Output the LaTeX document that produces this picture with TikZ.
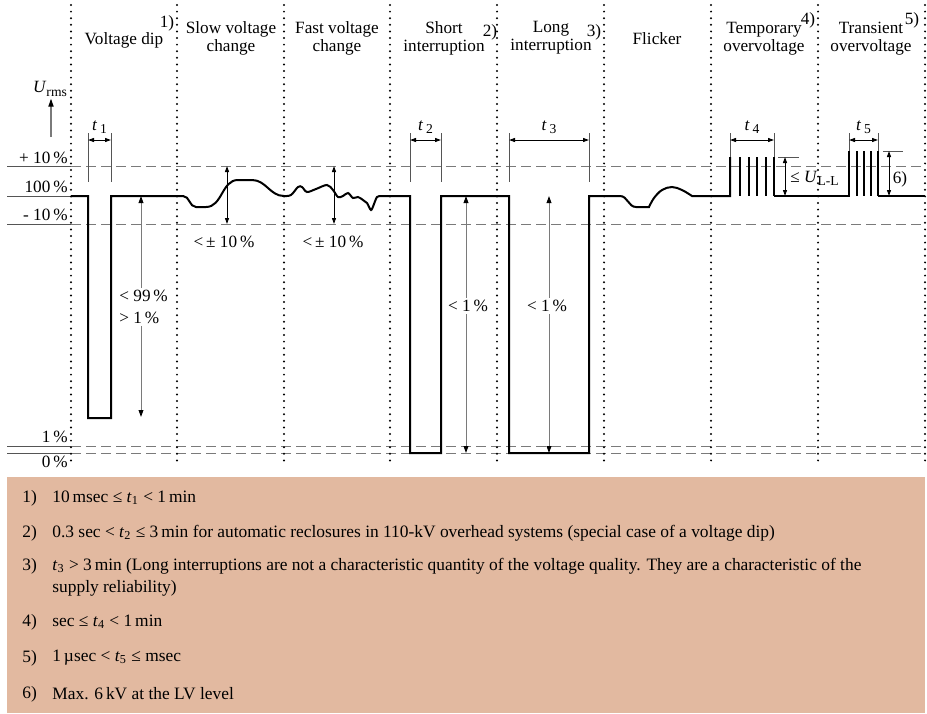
\documentclass[tikz,border=0pt]{standalone}
\usepackage{fontspec}
\setmainfont{Liberation Serif}
\usetikzlibrary{arrows.meta}
\definecolor{my_gray}{HTML}{7A7A7A}
\definecolor{my_darkgray}{HTML}{555555}
\definecolor{my_sand}{HTML}{E2B9A0}
\newcommand{\tvar}[1]{\textit{t}\,\raisebox{-0.45ex}{\fontsize{6.8}{7}\selectfont #1}}
\newcommand{\tnote}[1]{\textit{t}\textsubscript{#1}}
\newcommand{\lowsub}[1]{\raisebox{-0.4ex}{\fontsize{6.8}{7}\selectfont #1}}

\begin{document}
\begin{tikzpicture}[
    x=0.5pt, y=-0.5pt,
    lbl/.style={font=\fontsize{8.6}{9}\selectfont, inner sep=0pt, align=center},
    pct/.style={lbl, anchor=east},
    note/.style={font=\fontsize{8.7}{11}\selectfont, inner sep=0pt, anchor=west, align=left},
    wave/.style={line width=1pt, line join=miter},
    spike/.style={line width=0.6pt},
    sep_line/.style={line width=1.1pt, dash pattern=on 0pt off 3.3pt, line cap=round},
    level/.style={my_gray, line width=0.5pt, dash pattern=on 5pt off 2.5pt},
    level_solid/.style={my_darkgray, line width=0.5pt},
    ext/.style={my_darkgray, line width=0.5pt},
    dim/.style={line width=0.5pt, {Triangle[length=3pt, width=2pt]}-{Triangle[length=3pt, width=2pt]}},
    span/.style={my_gray, line width=0.5pt, {Triangle[black, length=3.5pt, width=2.4pt]}-{Triangle[black, length=3.5pt, width=2.4pt]}},
    cut/.style={fill=white, inner sep=1pt}
]
\useasboundingbox (0,0) rectangle (927,713);

% --- notes box ---
\fill[my_sand] (7,477) rectangle (925,713);

% --- level lines ---
\foreach \y in {166, 224, 446, 453} {
    \draw[level_solid] (7,\y) -- (71,\y);
    \draw[level] (71,\y) -- (925,\y);
}
\draw[level_solid] (7,196) -- (71,196);

% --- column separators ---
\foreach \x in {71, 177, 284, 390, 497, 604, 711, 818, 925}
    \draw[sep_line] (\x,5) -- (\x,465);

% --- level labels ---
\node[pct] (lbl_plus) at (68,158) {+ 10\,\%};
\node[pct] (lbl_nom) at (68,187) {100\,\%};
\node[pct] (lbl_minus) at (68,215) {- 10\,\%};
\node[pct] (lbl_one) at (68,437) {1\,\%};
\node[pct] (lbl_zero) at (68,462) {0\,\%};

% --- axis ---
\node[lbl] (lbl_urms) at (50,89) {\textit{U}\lowsub{rms}};
\coordinate (axis_base) at (51,137);
\draw[my_gray, line width=0.6pt, -{Triangle[black, length=4pt, width=2.6pt]}]
    (axis_base) -- ([yshift=-1pt]lbl_urms.south -| axis_base);

% --- headers ---
\node[lbl] (hdr_dip) at (124,40) {Voltage dip};
\node[lbl] (ref_1) at (167,23) {1)};
\node[lbl] (hdr_slow) at (231,38) {Slow voltage\\change};
\node[lbl] (hdr_fast) at (337,38) {Fast voltage\\change};
\node[lbl] (hdr_short) at (444,38) {Short\\interruption};
\node[lbl] (ref_2) at (490,32) {2)};
\node[lbl] (hdr_long) at (551,38) {Long\\interruption};
\node[lbl] (ref_3) at (594,32) {3)};
\node[lbl] (hdr_flicker) at (657,39) {Flicker};
\node[lbl] (hdr_temp) at (764,39) {Temporary\\overvoltage};
\node[lbl] (ref_4) at (808,20) {4)};
\node[lbl] (hdr_trans) at (871,39) {Transient\\overvoltage};
\node[lbl] (ref_5) at (912,20) {5)};

% --- voltage curve ---
\draw[wave] (71,196) -- (88,196) -- (88,418) -- (111,418) -- (111,196) -- (183,196)
    to[out=0, in=180] (196,207) -- (206,207)
    to[out=0, in=180] (238,180) -- (252,180)
    to[out=0, in=180] (284,196)
    -- plot[smooth, tension=0.55] coordinates {(284,196) (291,195) (298,187) (302,187)
        (307,192) (316,189) (327,185) (333,190) (338,197) (343,196) (348,193)
        (353,198) (358,197) (363,200) (367,203) (371,210) (374,204) (377,197) (381,196)}
    -- (410,196) -- (410,453) -- (441,453) -- (441,196)
    -- (509,196) -- (509,453) -- (589,453) -- (589,196) -- (620,196)
    to[out=0, in=180] (636,207) -- (649,207)
    -- plot[smooth, tension=0.6] coordinates {(649,207) (654,198) (662,190) (672,187) (682,190) (692,196)}
    -- (730,196) -- (730,157);
\foreach \x in {740, 749, 757, 766, 774}
    \draw[spike] (\x,157) -- (\x,196);
\draw[wave] (774,196) -- (849,196) -- (849,151);
\foreach \x in {857, 864, 871, 878}
    \draw[spike] (\x,151) -- (\x,196);
\draw[wave] (878,196) -- (925,196);

% --- time spans ---
\foreach \n/\xa/\xb/\yb in {1/88/111/182, 2/410/441/182, 3/509/589/182, 4/730/774/157, 5/849/878/151} {
    \coordinate (span_\n_a) at (\xa,140);
    \coordinate (span_\n_b) at (\xb,140);
    \draw[ext] (\xa,133) -- (\xa,\yb);
    \draw[ext] (\xb,133) -- (\xb,\yb);
    \draw[dim] (span_\n_a) -- (span_\n_b);
    \node[lbl] (lbl_t\n) at ({(\xa+\xb)/2},127) {\tvar{\n}};
}

% --- amplitude ranges ---
\draw[dim] (227,166) -- (227,224);
\node[lbl] (lbl_slow) at (224,242) {<\,± 10\,\%};
\draw[dim] (334,166) -- (334,224);
\node[lbl] (lbl_fast) at (333,242) {<\,± 10\,\%};

\draw[span] (141,196) -- (141,417);
\node[lbl, cut, anchor=west, align=left, font=\fontsize{8.6}{11}\selectfont] (lbl_dip) at (117,307) {< 99\,\%\\> 1\,\%};
\draw[span] (466,196) -- (466,453);
\node[lbl, cut] (lbl_short) at (468,306) {< 1\,\%};
\draw[span] (549,196) -- (549,453);
\node[lbl, cut] (lbl_long) at (547,306) {< 1\,\%};

% --- overvoltage heights ---
\draw[ext] (778,157) -- (799,157);
\draw[dim] (785,157) -- (785,196);
\node[lbl, anchor=west] (lbl_ull) at (790,178) {≤ \textit{U}\lowsub{L-L}};
\draw[ext] (883,151) -- (903,151);
\draw[dim] (889,151) -- (889,196);
\node[lbl] (lbl_six) at (900,179) {6)};

% --- notes ---
\foreach \n/\y in {1/498, 2/533, 3/566, 4/622, 5/658, 6/694}
    \node[note] (num_\n) at (22,\y) {\n)};
\node[note] (note_1) at (52,498) {10\,msec ≤ \tnote{1} < 1\,min};
\node[note] (note_2) at (52,533) {0.3 sec < \tnote{2} ≤ 3\,min for automatic reclosures in 110-kV overhead systems (special case of a voltage dip)};
\node[note] (note_3) at (52,577) {\tnote{3} > 3\,min (Long interruptions are not a characteristic quantity of the voltage quality. They are a characteristic of the\\supply reliability)};
\node[note] (note_4) at (52,622) {sec ≤ \tnote{4} < 1\,min};
\node[note] (note_5) at (52,658) {1\,µsec < \tnote{5} ≤ msec};
\node[note] (note_6) at (52,694) {Max. 6\,kV at the LV level};

\end{tikzpicture}
\end{document}
